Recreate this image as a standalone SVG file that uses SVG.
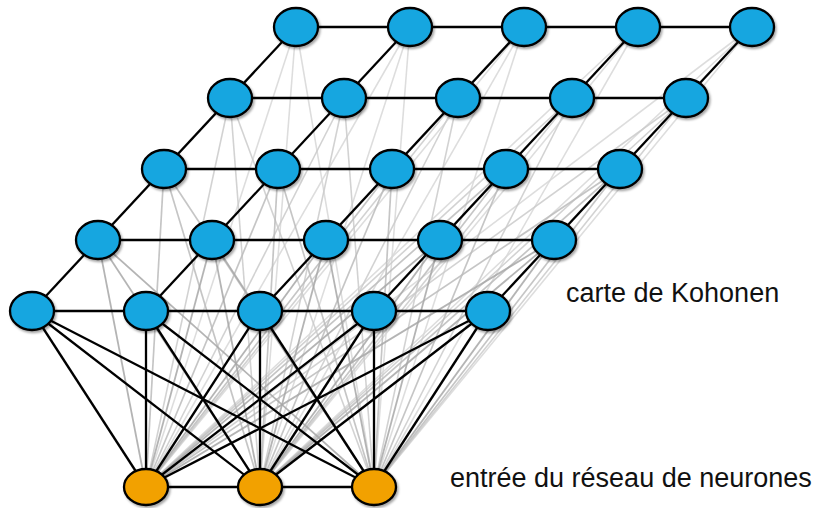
<svg xmlns="http://www.w3.org/2000/svg" width="816" height="508" viewBox="0 0 816 508">
<defs>
<filter id="sh" x="-30%" y="-30%" width="160%" height="160%">
<feDropShadow dx="1.5" dy="2" stdDeviation="1.2" flood-color="#000" flood-opacity="0.35"/>
</filter>
<style>
.g0{stroke:#d8d8d8;stroke-width:1.6;opacity:0.85}
.g1{stroke:#cbcbcb;stroke-width:1.6;opacity:0.85}
.g2{stroke:#bcbcbc;stroke-width:1.7;opacity:0.85}
.g3{stroke:#a8a8a8;stroke-width:1.8;opacity:0.85}
.k{stroke:#000;stroke-width:2.3;fill:none}
.blue{fill:#13a6e0;stroke:#000;stroke-width:2.3;filter:url(#sh)}
.orange{fill:#f2a106;stroke:#000;stroke-width:2.3;filter:url(#sh)}
text{font-family:"Liberation Sans",Arial,sans-serif;font-size:27px;fill:#111}
</style>
</defs>
<rect width="816" height="508" fill="#fff"/>
<g id="connectors">
<g id="grey-links">
<line class="g0" x1="146" y1="487" x2="296" y2="27"/><line class="g0" x1="146" y1="487" x2="410" y2="27"/><line class="g0" x1="146" y1="487" x2="524" y2="27"/><line class="g0" x1="146" y1="487" x2="638" y2="27"/><line class="g0" x1="146" y1="487" x2="752" y2="27"/>
<line class="g0" x1="260" y1="487" x2="296" y2="27"/><line class="g0" x1="260" y1="487" x2="410" y2="27"/><line class="g0" x1="260" y1="487" x2="524" y2="27"/><line class="g0" x1="260" y1="487" x2="638" y2="27"/><line class="g0" x1="260" y1="487" x2="752" y2="27"/>
<line class="g0" x1="374" y1="487" x2="296" y2="27"/><line class="g0" x1="374" y1="487" x2="410" y2="27"/><line class="g0" x1="374" y1="487" x2="524" y2="27"/><line class="g0" x1="374" y1="487" x2="638" y2="27"/><line class="g0" x1="374" y1="487" x2="752" y2="27"/>
<line class="g1" x1="146" y1="487" x2="230" y2="98"/><line class="g1" x1="146" y1="487" x2="344" y2="98"/><line class="g1" x1="146" y1="487" x2="458" y2="98"/><line class="g1" x1="146" y1="487" x2="572" y2="98"/><line class="g1" x1="146" y1="487" x2="686" y2="98"/>
<line class="g1" x1="260" y1="487" x2="230" y2="98"/><line class="g1" x1="260" y1="487" x2="344" y2="98"/><line class="g1" x1="260" y1="487" x2="458" y2="98"/><line class="g1" x1="260" y1="487" x2="572" y2="98"/><line class="g1" x1="260" y1="487" x2="686" y2="98"/>
<line class="g1" x1="374" y1="487" x2="230" y2="98"/><line class="g1" x1="374" y1="487" x2="344" y2="98"/><line class="g1" x1="374" y1="487" x2="458" y2="98"/><line class="g1" x1="374" y1="487" x2="572" y2="98"/><line class="g1" x1="374" y1="487" x2="686" y2="98"/>
<line class="g2" x1="146" y1="487" x2="164" y2="169"/><line class="g2" x1="146" y1="487" x2="278" y2="169"/><line class="g2" x1="146" y1="487" x2="392" y2="169"/><line class="g2" x1="146" y1="487" x2="506" y2="169"/><line class="g2" x1="146" y1="487" x2="620" y2="169"/>
<line class="g2" x1="260" y1="487" x2="164" y2="169"/><line class="g2" x1="260" y1="487" x2="278" y2="169"/><line class="g2" x1="260" y1="487" x2="392" y2="169"/><line class="g2" x1="260" y1="487" x2="506" y2="169"/><line class="g2" x1="260" y1="487" x2="620" y2="169"/>
<line class="g2" x1="374" y1="487" x2="164" y2="169"/><line class="g2" x1="374" y1="487" x2="278" y2="169"/><line class="g2" x1="374" y1="487" x2="392" y2="169"/><line class="g2" x1="374" y1="487" x2="506" y2="169"/><line class="g2" x1="374" y1="487" x2="620" y2="169"/>
<line class="g3" x1="146" y1="487" x2="98" y2="240"/><line class="g3" x1="146" y1="487" x2="212" y2="240"/><line class="g3" x1="146" y1="487" x2="326" y2="240"/><line class="g3" x1="146" y1="487" x2="440" y2="240"/><line class="g3" x1="146" y1="487" x2="554" y2="240"/>
<line class="g3" x1="260" y1="487" x2="98" y2="240"/><line class="g3" x1="260" y1="487" x2="212" y2="240"/><line class="g3" x1="260" y1="487" x2="326" y2="240"/><line class="g3" x1="260" y1="487" x2="440" y2="240"/><line class="g3" x1="260" y1="487" x2="554" y2="240"/>
<line class="g3" x1="374" y1="487" x2="98" y2="240"/><line class="g3" x1="374" y1="487" x2="212" y2="240"/><line class="g3" x1="374" y1="487" x2="326" y2="240"/><line class="g3" x1="374" y1="487" x2="440" y2="240"/><line class="g3" x1="374" y1="487" x2="554" y2="240"/>
</g>
<g id="grid-links">
<line class="k" x1="296" y1="27" x2="752" y2="27"/>
<line class="k" x1="230" y1="98" x2="686" y2="98"/>
<line class="k" x1="164" y1="169" x2="620" y2="169"/>
<line class="k" x1="98" y1="240" x2="554" y2="240"/>
<line class="k" x1="32" y1="311" x2="488" y2="311"/>
<line class="k" x1="32" y1="311" x2="296" y2="27"/>
<line class="k" x1="146" y1="311" x2="410" y2="27"/>
<line class="k" x1="260" y1="311" x2="524" y2="27"/>
<line class="k" x1="374" y1="311" x2="638" y2="27"/>
<line class="k" x1="488" y1="311" x2="752" y2="27"/>
<line class="k" x1="146" y1="487" x2="374" y2="487"/>
</g>
<g id="input-links">
<line class="k" x1="146" y1="487" x2="32" y2="311"/><line class="k" x1="146" y1="487" x2="146" y2="311"/><line class="k" x1="146" y1="487" x2="260" y2="311"/><line class="k" x1="146" y1="487" x2="374" y2="311"/><line class="k" x1="146" y1="487" x2="488" y2="311"/>
<line class="k" x1="260" y1="487" x2="32" y2="311"/><line class="k" x1="260" y1="487" x2="146" y2="311"/><line class="k" x1="260" y1="487" x2="260" y2="311"/><line class="k" x1="260" y1="487" x2="374" y2="311"/><line class="k" x1="260" y1="487" x2="488" y2="311"/>
<line class="k" x1="374" y1="487" x2="32" y2="311"/><line class="k" x1="374" y1="487" x2="146" y2="311"/><line class="k" x1="374" y1="487" x2="260" y2="311"/><line class="k" x1="374" y1="487" x2="374" y2="311"/><line class="k" x1="374" y1="487" x2="488" y2="311"/>
</g>
</g>
<g id="kohonen-map">
<g id="n00"><ellipse class="blue" cx="296" cy="27" rx="22" ry="19"/></g>
<g id="n01"><ellipse class="blue" cx="410" cy="27" rx="22" ry="19"/></g>
<g id="n02"><ellipse class="blue" cx="524" cy="27" rx="22" ry="19"/></g>
<g id="n03"><ellipse class="blue" cx="638" cy="27" rx="22" ry="19"/></g>
<g id="n04"><ellipse class="blue" cx="752" cy="27" rx="22" ry="19"/></g>
<g id="n10"><ellipse class="blue" cx="230" cy="98" rx="22" ry="19"/></g>
<g id="n11"><ellipse class="blue" cx="344" cy="98" rx="22" ry="19"/></g>
<g id="n12"><ellipse class="blue" cx="458" cy="98" rx="22" ry="19"/></g>
<g id="n13"><ellipse class="blue" cx="572" cy="98" rx="22" ry="19"/></g>
<g id="n14"><ellipse class="blue" cx="686" cy="98" rx="22" ry="19"/></g>
<g id="n20"><ellipse class="blue" cx="164" cy="169" rx="22" ry="19"/></g>
<g id="n21"><ellipse class="blue" cx="278" cy="169" rx="22" ry="19"/></g>
<g id="n22"><ellipse class="blue" cx="392" cy="169" rx="22" ry="19"/></g>
<g id="n23"><ellipse class="blue" cx="506" cy="169" rx="22" ry="19"/></g>
<g id="n24"><ellipse class="blue" cx="620" cy="169" rx="22" ry="19"/></g>
<g id="n30"><ellipse class="blue" cx="98" cy="240" rx="22" ry="19"/></g>
<g id="n31"><ellipse class="blue" cx="212" cy="240" rx="22" ry="19"/></g>
<g id="n32"><ellipse class="blue" cx="326" cy="240" rx="22" ry="19"/></g>
<g id="n33"><ellipse class="blue" cx="440" cy="240" rx="22" ry="19"/></g>
<g id="n34"><ellipse class="blue" cx="554" cy="240" rx="22" ry="19"/></g>
<g id="n40"><ellipse class="blue" cx="32" cy="311" rx="22" ry="19"/></g>
<g id="n41"><ellipse class="blue" cx="146" cy="311" rx="22" ry="19"/></g>
<g id="n42"><ellipse class="blue" cx="260" cy="311" rx="22" ry="19"/></g>
<g id="n43"><ellipse class="blue" cx="374" cy="311" rx="22" ry="19"/></g>
<g id="n44"><ellipse class="blue" cx="488" cy="311" rx="22" ry="19"/></g>
</g>
<g id="inputs">
<g id="in0"><ellipse class="orange" cx="146" cy="487" rx="22" ry="18"/></g>
<g id="in1"><ellipse class="orange" cx="260" cy="487" rx="22" ry="18"/></g>
<g id="in2"><ellipse class="orange" cx="374" cy="487" rx="22" ry="18"/></g>
</g>
<g id="labels">
<text x="566" y="302">carte de Kohonen</text>
<text x="450" y="487">entrée du réseau de neurones</text>
</g>
</svg>
